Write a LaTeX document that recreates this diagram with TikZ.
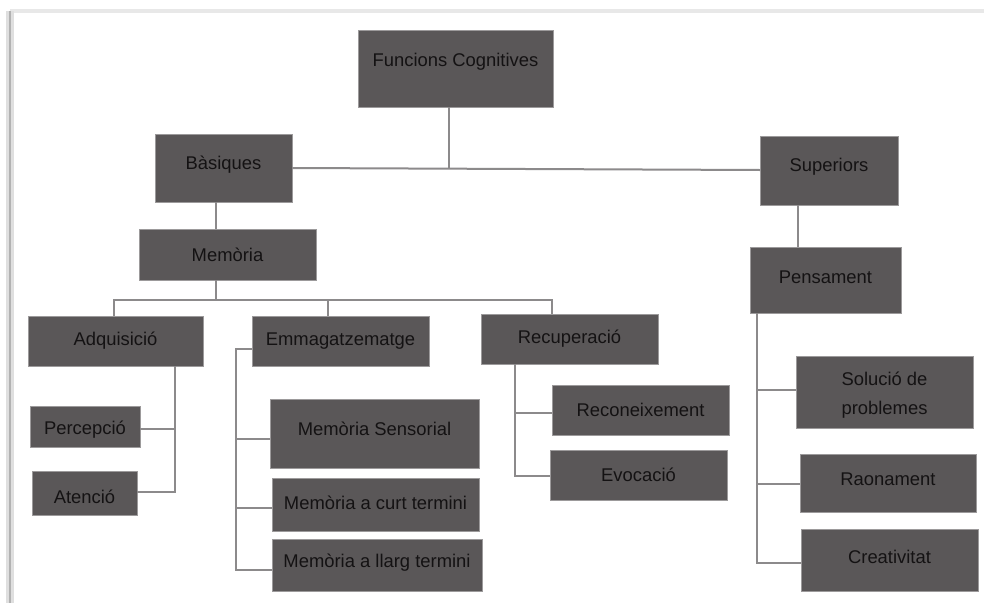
\documentclass[tikz,border=0pt]{standalone}
\usepackage{fontspec}
\setmainfont{Liberation Sans}
\definecolor{boxfill}{HTML}{5A5758}
\definecolor{boxedge}{HTML}{9C9A9B}
\definecolor{boxtext}{HTML}{141213}
\definecolor{linkcol}{HTML}{8C8A8B}
\tikzset{
  box/.style={draw=boxedge, line width=0.6pt, fill=boxfill, inner sep=0pt, outer sep=0pt},
  boxlabel/.style={text=boxtext, font=\fontsize{13.8pt}{21.75pt}\selectfont, align=center, inner sep=0pt},
  link/.style={draw=linkcol, line width=1.5pt},
}
% \cbox{name}{x1}{y1}{x2}{y2}{text y}{text}
\newcommand{\cbox}[7]{%
  \node[box, minimum width={(#4-#2)*0.75pt}, minimum height={(#5-#3)*0.75pt}]
    (#1) at ({(#2+#4)/2},{(#3+#5)/2}) {};
  \node[boxlabel] (#1-t) at ({(#2+#4)/2},#6) {#7};
}
\begin{document}
\begin{tikzpicture}[x=0.75pt,y=-0.75pt]
\useasboundingbox (0,0) rectangle (984,603);
\fill[white] (0,0) rectangle (984,603);
% page edge
\draw[gray!18, line width=3pt] (10,11) -- (984,11);
\draw[gray!25, line width=6pt] (10,11) -- (10,603);
\draw[gray!60, line width=2.2pt] (10,11) -- (10,603);

% junction coordinates
\coordinate (j0) at (449,169);
\coordinate (j1) at (216,300);
\coordinate (ja) at (175,492);
\coordinate (je) at (236,570);
\coordinate (jr) at (515,476);
\coordinate (jp) at (757,563);

\cbox{fc}{358}{30}{553}{107}{62}{Funcions Cognitives}
\cbox{bas}{155}{134}{292}{202}{165}{Bàsiques}
\cbox{sup}{760}{136}{898}{205}{167}{Superiors}
\cbox{pen}{750}{247}{901}{313}{277}{Pensament}
\cbox{mem}{139}{229}{316}{280}{255}{Memòria}
\cbox{adq}{28}{316}{203}{366}{341}{Adquisició}
\cbox{emm}{252}{316}{429}{366}{341}{Emmagatzematge}
\cbox{rec}{481}{314}{658}{364}{339}{Recuperació}
\cbox{per}{30}{406}{140}{447}{430}{Percepció}
\cbox{ate}{32}{471}{137}{515}{497}{Atenció}
\cbox{ms}{270}{399}{479}{468}{429}{Memòria Sensorial}
\cbox{mc}{272}{478}{479}{531}{503}{Memòria a curt termini}
\cbox{ml}{272}{539}{482}{591}{563}{Memòria a llarg termini}
\cbox{rcn}{552}{385}{729}{435}{410}{Reconeixement}
\cbox{evo}{550}{450}{727}{500}{475}{Evocació}
\cbox{sol}{796}{356}{973}{428}{395.5}{Solució de\\problemes}
\cbox{rao}{800}{454}{976}{512}{479}{Raonament}
\cbox{cre}{801}{529}{978}{591}{557}{Creativitat}

\begin{scope}[link]
% top level
\draw (fc.south -| j0) -- (j0);
\draw (bas.east |- 0,168) -- (sup.west |- 0,170);
\draw (bas.south -| j1) -- (mem.north -| j1);
\draw (sup.south -| 798,0) -- (pen.north -| 798,0);
% memory bus
\draw (mem.south -| j1) -- (j1);
\draw (adq.north -| 114,0) |- (j1) -| (rec.north -| 552,0);
\draw (emm.north -| 328,0) -- (328,300);
% acquisition
\draw (adq.south -| ja) -- (ja) -- (ate.east |- ja);
\draw (per.east |- 0,429) -- (175,429);
% storage
\draw (emm.west |- 0,349) -- (236,349) -- (je) -- (ml.west |- je);
\draw (236,439) -- (ms.west |- 0,439);
\draw (236,508) -- (mc.west |- 0,508);
% retrieval
\draw (rec.south -| jr) -- (jr) -- (evo.west |- jr);
\draw (515,413) -- (rcn.west |- 0,413);
% thinking
\draw (pen.south -| jp) -- (jp) -- (cre.west |- jp);
\draw (757,390) -- (sol.west |- 0,390);
\draw (757,484) -- (rao.west |- 0,484);
\end{scope}
\end{tikzpicture}
\end{document}
